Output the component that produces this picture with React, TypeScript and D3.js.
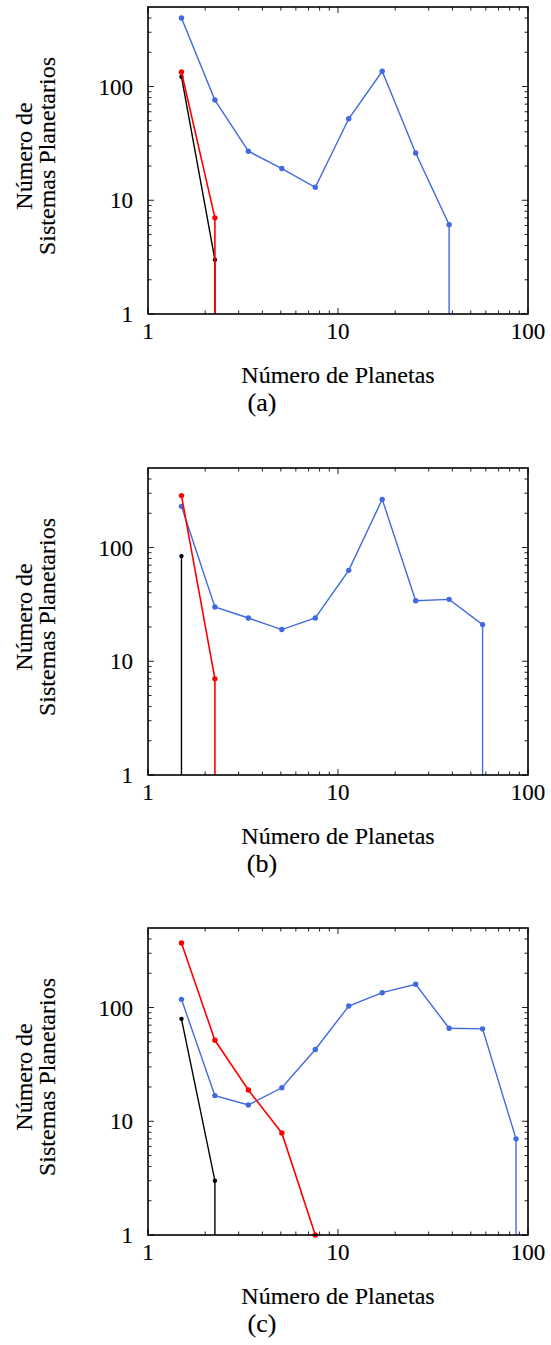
import React from "react";
import * as d3 from "d3";

const planetBins = [1.5, 2.25, 3.375, 5.0625, 7.594, 11.39, 17.09, 25.63, 38.44, 57.67, 86.5];

const blueA = [400, 76, 27, 19, 13, 52, 136, 26, 6.1];
const redA = [134, 7];
const blackA = [122, 3];

const blueB = [230, 30, 24, 19, 24, 63, 265, 34, 35, 21];
const redB = [286, 7];
const blackB = [84];

const blueC = [118, 16.8, 13.9, 19.7, 42.7, 103, 135, 160, 65.8, 64.9, 7];
const redC = [369, 51.5, 18.8, 7.9, 1];
const blackC = [79.5, 3];

const panelLabels = ["(a)", "(b)", "(c)"];
const xMajorTicks = [1, 10, 100];
const yMajorTicks = [1, 10, 100];
const xTitle = "Número de Planetas";
const yTitle1 = "Número de";
const yTitle2 = "Sistemas Planetarios";

const BLUE = "#4169e1";
const RED = "#ff0000";
const BLACK = "#000000";

const panels = [
  { label: panelLabels[0], series: [{ v: blueA, c: BLUE }, { v: blackA, c: BLACK }, { v: redA, c: RED }] },
  { label: panelLabels[1], series: [{ v: blueB, c: BLUE }, { v: blackB, c: BLACK }, { v: redB, c: RED }] },
  { label: panelLabels[2], series: [{ v: blueC, c: BLUE }, { v: blackC, c: BLACK }, { v: redC, c: RED }] },
];

const FONT = "'Liberation Serif', serif";
const LEFT = 148;
const RIGHT = 528;
const PH = 307;
const TOPS = [7, 468, 928];

function minorTicks(lo: number, hi: number) {
  const out: number[] = [];
  for (let dec = 1; dec < hi; dec *= 10) {
    for (let k = 2; k <= 9; k++) {
      const v = k * dec;
      if (v > lo && v < hi) out.push(v);
    }
  }
  return out;
}

function Panel({ top, panel }: { top: number; panel: any }) {
  const x = d3.scaleLog().domain([1, 100]).range([LEFT, RIGHT]);
  const y = d3.scaleLog().domain([1, 500]).range([top + PH, top]);
  const bottom = top + PH;
  const xMinor = minorTicks(1, 100);
  const yMinor = minorTicks(1, 500);
  const line = d3
    .line<[number, number]>()
    .x((d) => x(d[0]))
    .y((d) => y(d[1]));
  const maj = 6;
  const mnr = 3.5;
  const cx = (LEFT + RIGHT) / 2;
  const cy = top + 149;
  const txt = { fontFamily: FONT, fill: "#000", stroke: "#000", strokeWidth: 0.15 };
  return (
    <g>
      {xMajorTicks.map((t) => (
        <g key={"xm" + t}>
          <line x1={x(t)} x2={x(t)} y1={bottom} y2={bottom - maj} stroke="#222" strokeWidth={1} />
          <line x1={x(t)} x2={x(t)} y1={top} y2={top + maj} stroke="#222" strokeWidth={1} />
        </g>
      ))}
      {xMinor.map((t) => (
        <g key={"xn" + t}>
          <line x1={x(t)} x2={x(t)} y1={bottom} y2={bottom - mnr} stroke="#222" strokeWidth={1} />
          <line x1={x(t)} x2={x(t)} y1={top} y2={top + mnr} stroke="#222" strokeWidth={1} />
        </g>
      ))}
      {yMajorTicks.map((t) => (
        <g key={"ym" + t}>
          <line x1={LEFT} x2={LEFT + maj} y1={y(t)} y2={y(t)} stroke="#222" strokeWidth={1} />
          <line x1={RIGHT} x2={RIGHT - maj} y1={y(t)} y2={y(t)} stroke="#222" strokeWidth={1} />
        </g>
      ))}
      {yMinor.map((t) => (
        <g key={"yn" + t}>
          <line x1={LEFT} x2={LEFT + mnr} y1={y(t)} y2={y(t)} stroke="#222" strokeWidth={1} />
          <line x1={RIGHT} x2={RIGHT - mnr} y1={y(t)} y2={y(t)} stroke="#222" strokeWidth={1} />
        </g>
      ))}
      {panel.series.map((s: any, i: number) => {
        const pts: [number, number][] = s.v.map((v: number, j: number) => [planetBins[j], v]);
        const last = pts[pts.length - 1];
        const withDrop: [number, number][] = [...pts, [last[0], 1]];
        return (
          <g key={"s" + i}>
            <path d={line(withDrop) || ""} fill="none" stroke={s.c} strokeWidth={s.c === RED ? 1.6 : 1.4} />
            {pts.map((p, j) => (
              <circle key={j} cx={x(p[0])} cy={y(p[1])} r={s.c === BLACK ? 2.2 : 2.7} fill={s.c} />
            ))}
          </g>
        );
      })}
      <rect x={LEFT} y={top} width={RIGHT - LEFT} height={PH} fill="none" stroke="#000" strokeWidth={1.6} />
      {xMajorTicks.map((t) => (
        <text key={"xl" + t} x={x(t)} y={bottom + 25} textAnchor="middle" fontSize={23} style={txt}>
          {t}
        </text>
      ))}
      {yMajorTicks.map((t) => (
        <text key={"yl" + t} x={133} y={y(t) + 8} textAnchor="end" fontSize={23} style={txt}>
          {t}
        </text>
      ))}
      <text x={cx} y={bottom + 69} textAnchor="middle" fontSize={24} style={txt}>
        {xTitle}
      </text>
      <text x={262} y={bottom + 97} textAnchor="middle" fontSize={26} style={txt}>
        {panel.label}
      </text>
      <text transform={`translate(32,${cy}) rotate(-90)`} textAnchor="middle" fontSize={24} style={txt}>
        {yTitle1}
      </text>
      <text transform={`translate(55,${cy}) rotate(-90)`} textAnchor="middle" fontSize={24} style={txt}>
        {yTitle2}
      </text>
    </g>
  );
}

export default function App() {
  return (
    <svg
      width={551}
      height={1345}
      viewBox="0 0 551 1345"
      style={{ position: "absolute", left: 0, top: 0, background: "#fff" }}
    >
      <rect x={0} y={0} width={551} height={1345} fill="#fff" />
      {panels.map((p, i) => (
        <Panel key={i} top={TOPS[i]} panel={p} />
      ))}
    </svg>
  );
}
